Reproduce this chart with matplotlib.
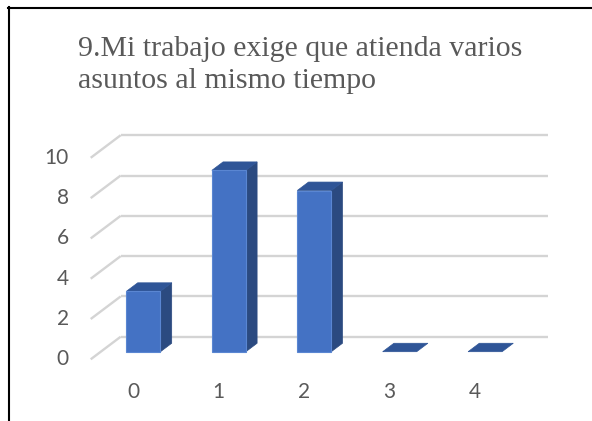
import matplotlib
matplotlib.use("Agg")
import matplotlib.pyplot as plt
from matplotlib.patches import Polygon
from matplotlib.lines import Line2D

# Data
categories = ["0", "1", "2", "3", "4"]
counts = [3, 9, 8, 0, 0]
value_ticks = [0, 2, 4, 6, 8, 10]
title_lines = ["9.Mi trabajo exige que atienda varios", "asuntos al mismo tiempo"]

# Styling
FRONT = "#4472C4"
TOP = "#2F5597"
SIDE = "#2B4A80"
GRID = "#D4D4D4"
TEXT = "#595959"

W, H, DPI = 592, 421, 100
fig = plt.figure(figsize=(W / DPI, H / DPI), dpi=DPI)
fig.patch.set_facecolor("white")

# One axes over the whole canvas; data units are categories (x) and counts (y)
ax = fig.add_axes([0, 0, 1, 1])
cat_px = 85.4          # pixels per category
val_px = 20.15         # pixels per count
x0_px = 133.4          # pixel of category 0 on the front plane
y0_px = 359.3          # pixel row (from top) of value 0 on the front plane
ax.set_xlim(-x0_px / cat_px, (W - x0_px) / cat_px)
ax.set_ylim((y0_px - H) / val_px, y0_px / val_px)
ax.axis("off")

# 3-D depth offset, in data units
DX = 30 / cat_px
DY = 22.6 / val_px
n = len(categories)
left, right = -0.5, n - 0.5

# Back wall gridlines and the left-side diagonals
for v in value_ticks:
    ax.add_line(Line2D([left + DX, right + DX], [v + DY, v + DY],
                       color=GRID, lw=1.7, zorder=1, solid_capstyle="butt"))
    ax.add_line(Line2D([left, left + DX], [v, v + DY],
                       color=GRID, lw=1.7, zorder=1, solid_capstyle="butt"))
    ax.text(left - 22 / cat_px, v, str(v), ha="right", va="center",
            fontsize=15, color=TEXT, family="Lato")

# Bars
bw = 34 / cat_px
f0, f1 = 0.336, 0.71
for i, v in enumerate(counts):
    xl, xr = i - bw / 2, i + bw / 2
    side = [(xr + f0 * DX, f0 * DY), (xr + f1 * DX, f1 * DY),
            (xr + f1 * DX, v + f1 * DY), (xr + f0 * DX, v + f0 * DY)]
    top = [(xl + f0 * DX, v + f0 * DY), (xr + f0 * DX, v + f0 * DY),
           (xr + f1 * DX, v + f1 * DY), (xl + f1 * DX, v + f1 * DY)]
    front = [(xl + f0 * DX, f0 * DY), (xr + f0 * DX, f0 * DY),
             (xr + f0 * DX, v + f0 * DY), (xl + f0 * DX, v + f0 * DY)]
    if v > 0:
        ax.add_patch(Polygon(side, closed=True, facecolor=SIDE, edgecolor=SIDE,
                             lw=0.5, zorder=3))
    ax.add_patch(Polygon(top, closed=True, facecolor=TOP, edgecolor=TOP,
                         lw=0.5, zorder=3))
    if v > 0:
        ax.add_patch(Polygon(front, closed=True, facecolor=FRONT,
                             edgecolor="#5A86D2", lw=0.8, zorder=4))
    ax.text(i, -1.6, categories[i], ha="center", va="center",
            fontsize=15, color=TEXT, family="Lato")

# Title
fig.text(78 / W, 1 - 55.5 / H, title_lines[0], ha="left", va="baseline",
         fontsize=21.5, color=TEXT, family="Liberation Serif")
fig.text(78 / W, 1 - 88 / H, title_lines[1], ha="left", va="baseline",
         fontsize=21.5, color=TEXT, family="Liberation Serif")

# Frame around the chart area
fig.add_artist(Line2D([8.5 / W, 8.5 / W], [0, 1 - 7 / H], color="black",
                      lw=1.5, transform=fig.transFigure))
fig.add_artist(Line2D([8 / W, 1], [1 - 7.5 / H, 1 - 7.5 / H], color="black",
                      lw=1.5, transform=fig.transFigure))

fig.savefig("out.png", dpi=DPI, facecolor="white")
